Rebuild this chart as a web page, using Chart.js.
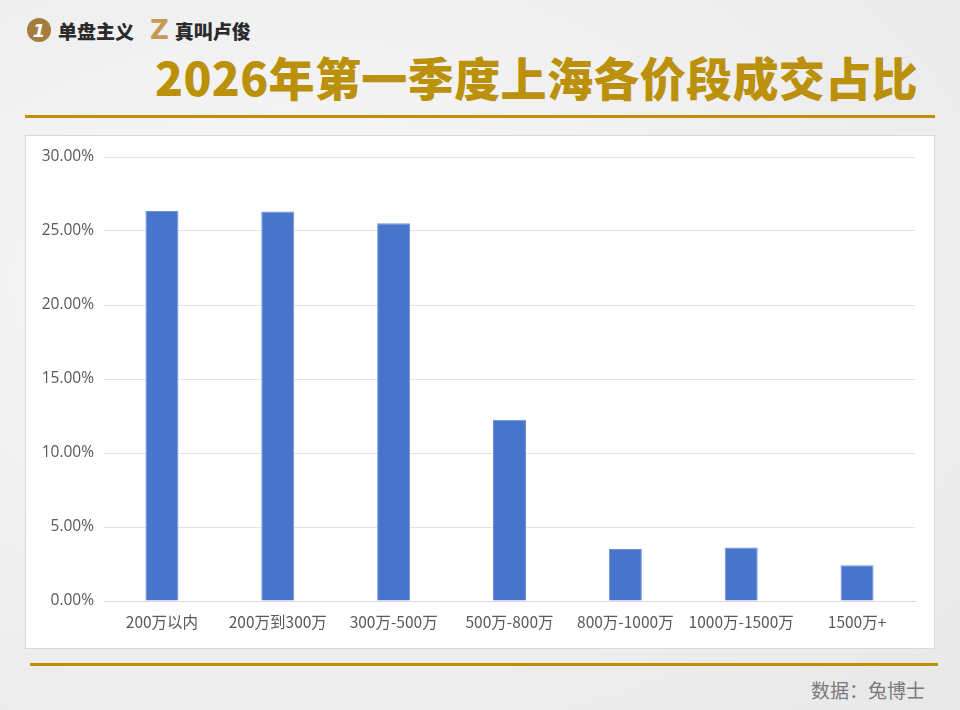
<!DOCTYPE html>
<html>
<head>
<meta charset="utf-8">
<script src="https://cdn.jsdelivr.net/npm/chart.js@4.4.1/dist/chart.umd.min.js"></script>
<style>
  body { margin: 0; width: 960px; height: 710px; overflow: hidden;
    background: radial-gradient(ellipse at 30% 40%, #f8f8f8 0%, #f0f0f0 50%, #e8e8e8 100%);
    font-family: "Noto Sans CJK SC", sans-serif; position: relative; }
  .brand { position: absolute; top: 16px; height: 28px; display: flex; align-items: center;
    font-weight: 900; font-size: 19px; color: #2b2b2b; }
  .badge { width: 24px; height: 24px; border-radius: 50%; background: #a47c3e; color: #fff;
    font-size: 18px; font-style: italic; font-weight: 900; display: flex; align-items: center;
    justify-content: center; margin-right: 7px; font-family: "DejaVu Sans", sans-serif; }
  .zed { color: #c39a55; font-size: 26px; font-weight: 900; margin-right: 6px; font-family: "DejaVu Sans", sans-serif; }
  #title { position: absolute; left: 155px; top: 44px; font-size: 46px; font-weight: 900;
    color: #bb900a; white-space: nowrap; line-height: 64px; }
  .rule { position: absolute; height: 3px; background: #bf9000; }
  #card { position: absolute; left: 25px; top: 135px; width: 908px; height: 512px;
    background: #fff; border: 1px solid #d9d9d9; }
  #foot { position: absolute; right: 35px; top: 676px; font-size: 19px; color: #7a7a7a; }
</style>
</head>
<body>
<div class="brand" style="left:27px"><div class="badge">1</div>单盘主义</div>
<div class="brand" style="left:150px"><span class="zed">Z</span>真叫卢俊</div>
<div id="title">2026年第一季度上海各价段成交占比</div>
<div class="rule" style="left:25px; width:910px; top:115px"></div>
<div id="card"><canvas id="bars" width="908" height="512"></canvas></div>
<div class="rule" style="left:30px; width:908px; top:663px"></div>
<div id="foot">数据：兔博士</div>
<script>
// 各价段成交占比 (%)
const priceBands = ['200万以内', '200万到300万', '300万-500万', '500万-800万', '800万-1000万', '1000万-1500万', '1500万+'];
const shareValues = [26.35, 26.32, 25.52, 12.25, 3.52, 3.62, 2.42];
const yMax = 30;
const yStep = 5;

// fit the title between x=155 and x=918
let title = document.getElementById('title');
let gap = (763 - title.getBoundingClientRect().width) / title.textContent.length;
title.style.letterSpacing = gap + 'px';

let bars_param = {
    type: 'bar',
    data: {
        labels: priceBands,
        datasets: [{
            label: '成交占比',
            data: shareValues,
            backgroundColor: '#4874CB',
            borderColor: '#6E92D8',
            borderWidth: 1,
            barPercentage: 0.285,
            categoryPercentage: 1,
        }]
    },
    options: {
        responsive: false,
        animation: false,
        layout: { padding: { left: 0, right: 19, top: 21, bottom: 0 } },
        plugins: { legend: { display: false }, tooltip: { enabled: false } },
        scales: {
            x: {
                grid: { display: false },
                border: { color: '#d9d9d9', width: 1 },
                ticks: { color: '#595959', font: { family: 'Noto Sans CJK SC', size: 15.5 }, padding: 4, maxRotation: 0, autoSkip: false },
                afterFit: (s) => { s.height = 47; }
            },
            y: {
                min: 0,
                max: yMax,
                grid: { color: '#e3e3e3', drawTicks: false },
                border: { display: false },
                ticks: {
                    stepSize: yStep,
                    color: '#595959',
                    padding: 10,
                    font: { family: 'Open Sans', size: 15.5 },
                    callback: (v) => v.toFixed(2) + '%'
                },
                afterFit: (s) => { s.width = 78; }
            }
        }
    }
};
let bars = new Chart(document.getElementById('bars'), bars_param);
</script>
</body>
</html>
